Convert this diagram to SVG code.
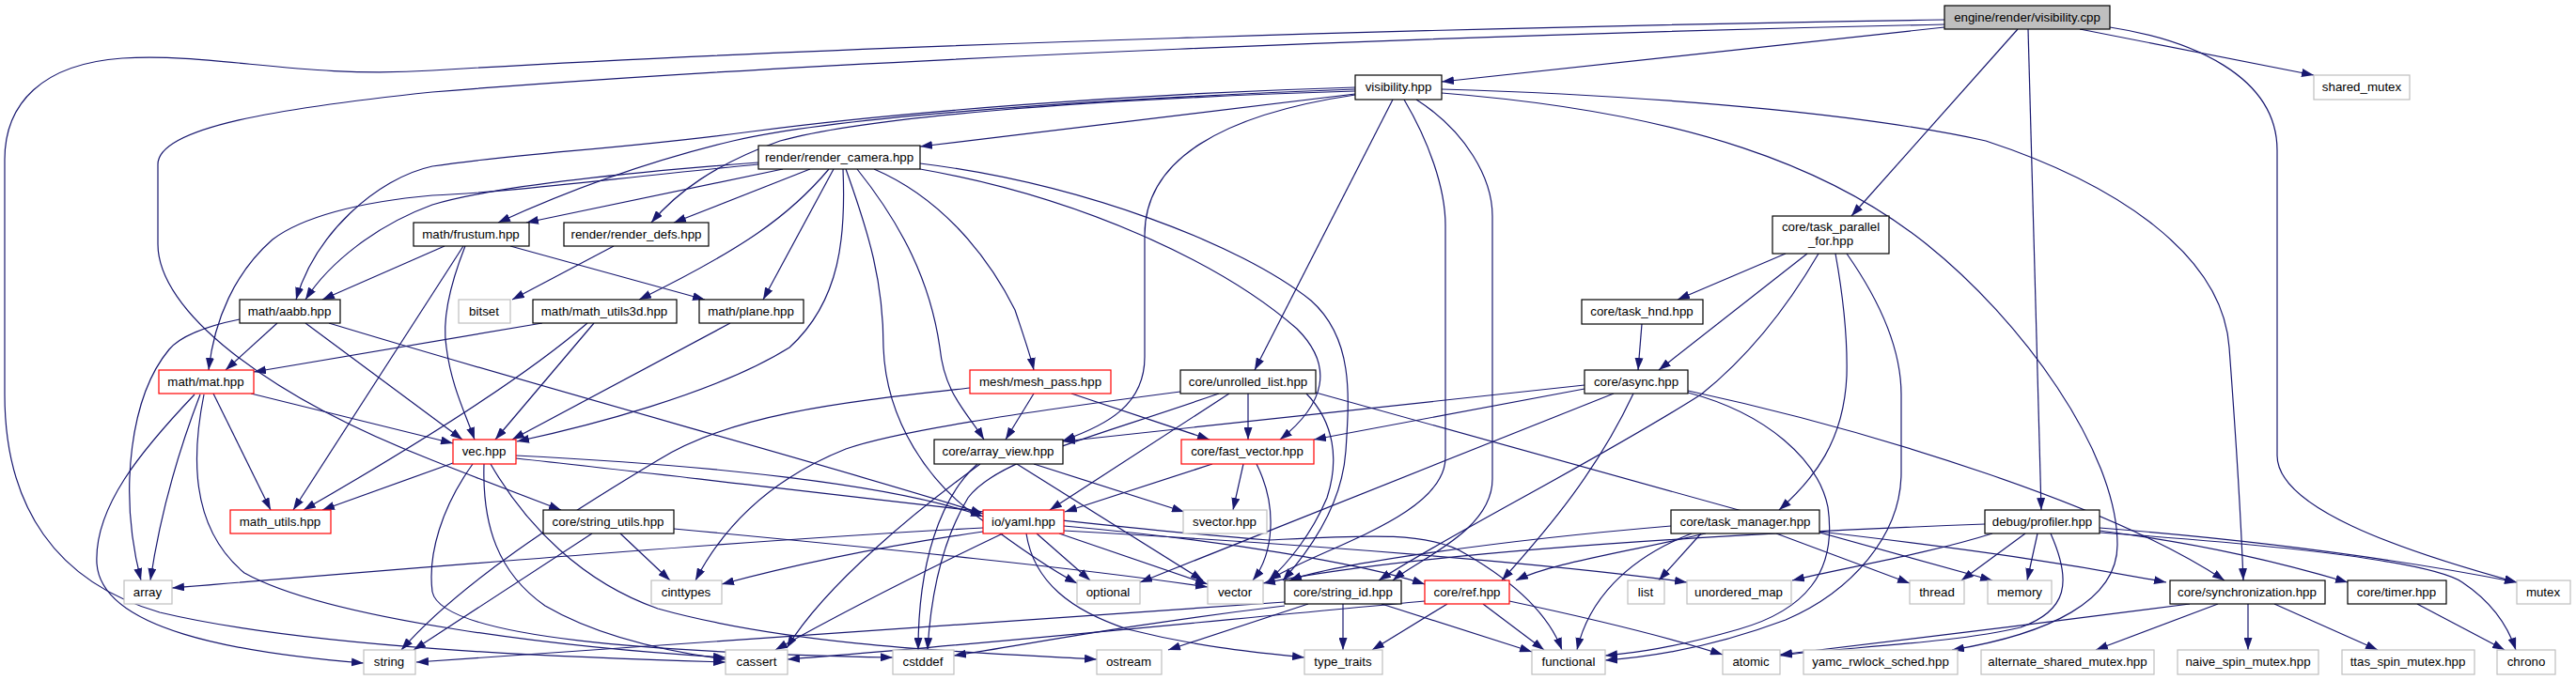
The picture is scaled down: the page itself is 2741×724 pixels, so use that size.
<svg xmlns="http://www.w3.org/2000/svg" width="2741" height="724" viewBox="0 0 2741 724">
<style>
.e path{fill:none;stroke:#191970;stroke-width:1.2;marker-end:url(#ah)}
rect{fill:#fff;stroke:#000;stroke-width:1.2}
.r rect{stroke:#ff0000}
.g rect{stroke:#bfbfbf}
.root rect{fill:#bfbfbf}
text{font-family:"Liberation Sans",Arial,sans-serif;font-size:13.3px;fill:#000;text-anchor:middle}
</style>
<defs>
<marker id="ah" viewBox="0 0 13 9" refX="13" refY="4.5" markerWidth="13" markerHeight="9" markerUnits="userSpaceOnUse" orient="auto"><path d="M0,0L13,4.5L0,9z" fill="#191970"/></marker>
</defs>
<rect x="0" y="0" width="2741" height="724" style="fill:#fff;stroke:none"/>
<g id="edges" class="e">
<path d="M2069,29 L1534,87"/>
<path d="M2069,21 C1600,28 900,48 460,75 C320,84 230,56 130,62 C45,68 5,110 5,170 L5,420 C5,540 60,620 170,652 C330,690 600,700 772,705"/>
<path d="M2069,26 C1600,36 900,62 460,98 C300,115 168,135 168,175 L168,260 C168,330 280,420 460,490 C510,510 555,527 597,543"/>
<path d="M2147,31 L1970,230"/>
<path d="M2158,31 L2172,543"/>
<path d="M2213,31 L2462,80"/>
<path d="M2245,29 C2330,42 2423,80 2423,160 L2423,485 C2423,540 2550,585 2678,620"/>
<path d="M1442,100 L979,156"/>
<path d="M1442,95 C1200,104 900,122 780,150 C680,174 600,205 530,237"/>
<path d="M1442,93 C1200,100 950,120 800,140 C650,160 560,162 460,177 C400,190 335,250 315,319"/>
<path d="M1442,97 C1150,106 920,125 830,150 C760,175 720,205 693,237"/>
<path d="M1442,101 C1300,122 1218,170 1218,250 L1218,380 C1218,430 1180,452 1131,469"/>
<path d="M1482,106 L1335,394"/>
<path d="M1494,106 C1520,150 1538,200 1538,240 L1538,487 C1538,550 1400,585 1350,618"/>
<path d="M1507,106 C1560,140 1588,190 1588,230 L1588,510 C1588,565 1510,595 1482,618"/>
<path d="M1534,95 C1800,103 2000,125 2113,150 C2250,195 2365,270 2372,370 C2378,450 2384,540 2387,618"/>
<path d="M1534,99 C1800,120 1950,180 2050,260 C2150,340 2253,480 2253,580 C2253,640 2180,675 2077,692"/>
<path d="M833,180 L560,237"/>
<path d="M862,180 L717,237"/>
<path d="M882,180 C840,230 790,265 680,319"/>
<path d="M887,180 L812,319"/>
<path d="M897,180 C900,250 895,320 840,370 C760,420 620,455 550,470"/>
<path d="M807,173 C650,185 520,200 460,218 C400,240 350,280 325,319"/>
<path d="M807,175 C650,190 540,205 460,208 C380,215 320,232 290,255 C250,290 228,340 222,394"/>
<path d="M900,180 C925,250 940,300 940,370 C943,450 990,515 1040,550 C1080,580 1115,605 1146,621"/>
<path d="M912,180 C960,240 990,300 1000,370 C1005,420 1030,440 1047,468"/>
<path d="M930,180 C1000,210 1050,270 1080,330 C1090,360 1097,380 1100,394"/>
<path d="M979,180 C1150,210 1300,280 1380,350 C1420,390 1410,430 1362,468"/>
<path d="M979,174 C1150,195 1320,260 1395,320 C1440,360 1436,420 1432,480 C1428,540 1390,590 1365,618"/>
<path d="M473,262 L343,319"/>
<path d="M495,262 C480,300 470,340 475,370 C480,410 495,440 505,468"/>
<path d="M543,262 L750,319"/>
<path d="M493,262 L312,543"/>
<path d="M653,262 L545,319"/>
<path d="M577,344 L270,396"/>
<path d="M632,344 L527,468"/>
<path d="M625,344 C560,400 450,470 323,543"/>
<path d="M777,344 L545,468"/>
<path d="M295,344 L240,394"/>
<path d="M325,344 L492,468"/>
<path d="M255,340 C215,348 190,360 180,372 C140,420 125,520 150,618"/>
<path d="M350,344 C600,420 900,500 1046,547"/>
<path d="M267,419 L482,472"/>
<path d="M227,419 L288,543"/>
<path d="M213,420 C190,480 170,550 160,618"/>
<path d="M207,420 C150,480 100,540 103,600 C108,670 250,695 387,706"/>
<path d="M217,420 C205,480 200,560 260,610 C350,660 600,690 772,700"/>
<path d="M482,493 L343,543"/>
<path d="M549,485 C750,495 950,515 1046,550"/>
<path d="M549,488 C800,515 1150,560 1350,575 C1450,570 1520,565 1560,590 C1620,625 1650,660 1662,692"/>
<path d="M515,494 C513,560 530,610 580,645 C640,680 720,695 772,702"/>
<path d="M503,494 C470,540 455,590 460,630 C470,680 700,695 950,700"/>
<path d="M522,494 C560,560 620,620 700,648 C850,690 1050,695 1167,702"/>
<path d="M630,568 L440,692"/>
<path d="M660,568 L713,618"/>
<path d="M717,563 C950,585 1150,605 1285,625"/>
<path d="M1100,419 L1070,468"/>
<path d="M1140,419 L1287,468"/>
<path d="M1032,413 C900,428 780,440 700,490 C600,550 490,620 427,692"/>
<path d="M1328,419 L1328,468"/>
<path d="M1308,419 L1117,543"/>
<path d="M1297,419 C1150,470 1060,490 1030,530 C1000,580 990,640 987,692"/>
<path d="M1256,417 C1080,440 950,460 900,478 C820,510 770,560 740,618"/>
<path d="M1400,418 L2120,618"/>
<path d="M1390,419 C1420,450 1425,490 1412,530 C1395,570 1370,600 1350,618"/>
<path d="M1686,410 L1131,470"/>
<path d="M1686,414 L1398,468"/>
<path d="M1717,419 L1213,620"/>
<path d="M1738,419 C1700,500 1650,560 1598,618"/>
<path d="M1796,416 C2000,460 2250,540 2367,618"/>
<path d="M1796,418 C1880,440 1935,490 1945,540 C1955,610 1920,650 1850,670 C1780,690 1740,695 1708,698"/>
<path d="M1747,345 L1743,394"/>
<path d="M1900,270 L1785,319"/>
<path d="M1923,270 L1765,394"/>
<path d="M1953,270 C1962,320 1966,360 1965,400 C1962,470 1930,510 1893,543"/>
<path d="M1965,270 C2000,320 2023,370 2023,420 L2023,503 C2023,570 1970,630 1900,660 C1820,690 1750,700 1708,703"/>
<path d="M1935,270 C1900,330 1860,380 1810,420 C1700,490 1540,570 1467,618"/>
<path d="M1810,568 L1765,618"/>
<path d="M1815,568 C1720,590 1650,600 1613,618"/>
<path d="M1800,568 C1730,595 1690,640 1678,692"/>
<path d="M1890,568 L2032,621"/>
<path d="M1936,566 C2100,585 2200,600 2305,620"/>
<path d="M1778,560 C1600,575 1420,600 1372,618"/>
<path d="M2120,568 C2050,590 1960,605 1907,618"/>
<path d="M2155,568 L2087,618"/>
<path d="M2168,568 L2157,618"/>
<path d="M2182,568 C2205,620 2200,650 2150,668 C2080,685 1950,690 1894,698"/>
<path d="M2234,565 C2350,580 2430,600 2498,620"/>
<path d="M2234,562 C2400,575 2550,595 2678,620"/>
<path d="M2234,567 C2450,582 2590,600 2620,620 C2650,640 2668,665 2677,692"/>
<path d="M2112,558 C1800,570 1500,590 1344,621"/>
<path d="M2330,643 C2200,660 2000,685 1894,697"/>
<path d="M2360,643 L2230,692"/>
<path d="M2392,643 L2392,692"/>
<path d="M2420,643 L2530,692"/>
<path d="M2572,643 L2665,692"/>
<path d="M1429,643 L1429,692"/>
<path d="M1470,643 L1630,694"/>
<path d="M1392,643 L1243,692"/>
<path d="M1367,641 C1000,665 700,690 443,705"/>
<path d="M1367,645 C1200,665 1100,685 1015,698"/>
<path d="M1540,643 L1460,692"/>
<path d="M1578,643 L1643,692"/>
<path d="M1516,640 C1300,660 1000,690 838,702"/>
<path d="M1606,640 C1700,660 1780,680 1833,697"/>
<path d="M1046,562 C800,575 500,600 183,626"/>
<path d="M1046,566 C950,580 850,600 768,622"/>
<path d="M1103,568 L1160,618"/>
<path d="M1127,568 L1285,622"/>
<path d="M1067,568 C1000,600 900,650 825,692"/>
<path d="M1092,568 C1100,620 1140,650 1200,670 C1280,690 1340,695 1388,700"/>
<path d="M1132,565 C1400,580 1650,600 1795,620"/>
<path d="M1132,560 C1300,575 1450,600 1516,622"/>
<path d="M1043,494 C980,540 880,620 837,690"/>
<path d="M1040,494 C1000,530 977,600 977,692"/>
<path d="M1082,494 L1280,618"/>
<path d="M1100,494 L1260,545"/>
<path d="M1290,494 L1133,545"/>
<path d="M1323,494 L1312,543"/>
<path d="M1337,494 C1360,540 1355,590 1333,618"/>
</g>
<g id="n_cpp" class="root"><rect x="2069" y="6" width="176" height="25"/><text x="2157" y="23">engine/render/visibility.cpp</text></g>
<g id="n_vh"><rect x="1442" y="80" width="92" height="26"/><text x="1488" y="97">visibility.hpp</text></g>
<g id="n_sm" class="g"><rect x="2462" y="80" width="102" height="26"/><text x="2513" y="97">shared_mutex</text></g>
<g id="n_rc"><rect x="807" y="155" width="172" height="25"/><text x="893" y="172">render/render_camera.hpp</text></g>
<g id="n_tpf"><rect x="1886" y="230" width="124" height="40"/><text x="1948" y="246">core/task_parallel</text><text x="1948" y="261">_for.hpp</text></g>
<g id="n_fr"><rect x="440" y="237" width="123" height="25"/><text x="501" y="254">math/frustum.hpp</text></g>
<g id="n_rd"><rect x="600" y="237" width="154" height="25"/><text x="677" y="254">render/render_defs.hpp</text></g>
<g id="n_aabb"><rect x="255" y="319" width="107" height="25"/><text x="308" y="336">math/aabb.hpp</text></g>
<g id="n_bitset" class="g"><rect x="488" y="319" width="55" height="25"/><text x="515" y="336">bitset</text></g>
<g id="n_mu3"><rect x="567" y="319" width="153" height="25"/><text x="643" y="336">math/math_utils3d.hpp</text></g>
<g id="n_pl"><rect x="744" y="319" width="111" height="25"/><text x="799" y="336">math/plane.hpp</text></g>
<g id="n_th"><rect x="1683" y="319" width="129" height="26"/><text x="1747" y="336">core/task_hnd.hpp</text></g>
<g id="n_mat" class="r"><rect x="169" y="394" width="101" height="25"/><text x="219" y="411">math/mat.hpp</text></g>
<g id="n_mp" class="r"><rect x="1032" y="394" width="150" height="25"/><text x="1107" y="411">mesh/mesh_pass.hpp</text></g>
<g id="n_ul"><rect x="1256" y="394" width="144" height="25"/><text x="1328" y="411">core/unrolled_list.hpp</text></g>
<g id="n_as"><rect x="1686" y="394" width="110" height="25"/><text x="1741" y="411">core/async.hpp</text></g>
<g id="n_vec" class="r"><rect x="482" y="468" width="67" height="26"/><text x="515" y="485">vec.hpp</text></g>
<g id="n_av"><rect x="994" y="468" width="137" height="26"/><text x="1062" y="485">core/array_view.hpp</text></g>
<g id="n_fv" class="r"><rect x="1257" y="468" width="141" height="26"/><text x="1327" y="485">core/fast_vector.hpp</text></g>
<g id="n_mu" class="r"><rect x="245" y="543" width="107" height="25"/><text x="298" y="560">math_utils.hpp</text></g>
<g id="n_su"><rect x="578" y="543" width="139" height="25"/><text x="647" y="560">core/string_utils.hpp</text></g>
<g id="n_yaml" class="r"><rect x="1046" y="543" width="86" height="25"/><text x="1089" y="560">io/yaml.hpp</text></g>
<g id="n_sv" class="g"><rect x="1259" y="543" width="89" height="25"/><text x="1303" y="560">svector.hpp</text></g>
<g id="n_tm"><rect x="1778" y="543" width="158" height="25"/><text x="1857" y="560">core/task_manager.hpp</text></g>
<g id="n_prof"><rect x="2112" y="543" width="122" height="25"/><text x="2173" y="560">debug/profiler.hpp</text></g>
<g id="n_array" class="g"><rect x="132" y="618" width="51" height="25"/><text x="157" y="635">array</text></g>
<g id="n_cint" class="g"><rect x="693" y="618" width="75" height="25"/><text x="730" y="635">cinttypes</text></g>
<g id="n_opt" class="g"><rect x="1146" y="618" width="67" height="25"/><text x="1179" y="635">optional</text></g>
<g id="n_vector" class="g"><rect x="1285" y="618" width="59" height="25"/><text x="1314" y="635">vector</text></g>
<g id="n_sid"><rect x="1367" y="618" width="124" height="25"/><text x="1429" y="635">core/string_id.hpp</text></g>
<g id="n_ref" class="r"><rect x="1516" y="618" width="90" height="25"/><text x="1561" y="635">core/ref.hpp</text></g>
<g id="n_list" class="g"><rect x="1732" y="618" width="39" height="25"/><text x="1751" y="635">list</text></g>
<g id="n_umap" class="g"><rect x="1795" y="618" width="111" height="25"/><text x="1850" y="635">unordered_map</text></g>
<g id="n_thread" class="g"><rect x="2032" y="618" width="58" height="25"/><text x="2061" y="635">thread</text></g>
<g id="n_mem" class="g"><rect x="2115" y="618" width="68" height="25"/><text x="2149" y="635">memory</text></g>
<g id="n_sync"><rect x="2309" y="618" width="165" height="25"/><text x="2391" y="635">core/synchronization.hpp</text></g>
<g id="n_timer"><rect x="2498" y="618" width="105" height="25"/><text x="2550" y="635">core/timer.hpp</text></g>
<g id="n_mutex" class="g"><rect x="2678" y="618" width="57" height="25"/><text x="2706" y="635">mutex</text></g>
<g id="n_string" class="g"><rect x="387" y="692" width="55" height="26"/><text x="414" y="709">string</text></g>
<g id="n_cassert" class="g"><rect x="772" y="692" width="66" height="26"/><text x="805" y="709">cassert</text></g>
<g id="n_cstddef" class="g"><rect x="950" y="692" width="65" height="26"/><text x="982" y="709">cstddef</text></g>
<g id="n_ostream" class="g"><rect x="1167" y="692" width="69" height="26"/><text x="1201" y="709">ostream</text></g>
<g id="n_tt" class="g"><rect x="1388" y="692" width="83" height="26"/><text x="1429" y="709">type_traits</text></g>
<g id="n_func" class="g"><rect x="1630" y="692" width="78" height="26"/><text x="1669" y="709">functional</text></g>
<g id="n_atomic" class="g"><rect x="1833" y="692" width="61" height="26"/><text x="1863" y="709">atomic</text></g>
<g id="n_yamc" class="g"><rect x="1919" y="692" width="164" height="26"/><text x="2001" y="709">yamc_rwlock_sched.hpp</text></g>
<g id="n_asm" class="g"><rect x="2108" y="692" width="184" height="26"/><text x="2200" y="709">alternate_shared_mutex.hpp</text></g>
<g id="n_naive" class="g"><rect x="2317" y="692" width="150" height="26"/><text x="2392" y="709">naive_spin_mutex.hpp</text></g>
<g id="n_ttas" class="g"><rect x="2492" y="692" width="141" height="26"/><text x="2562" y="709">ttas_spin_mutex.hpp</text></g>
<g id="n_chrono" class="g"><rect x="2657" y="692" width="62" height="26"/><text x="2688" y="709">chrono</text></g>
</svg>
